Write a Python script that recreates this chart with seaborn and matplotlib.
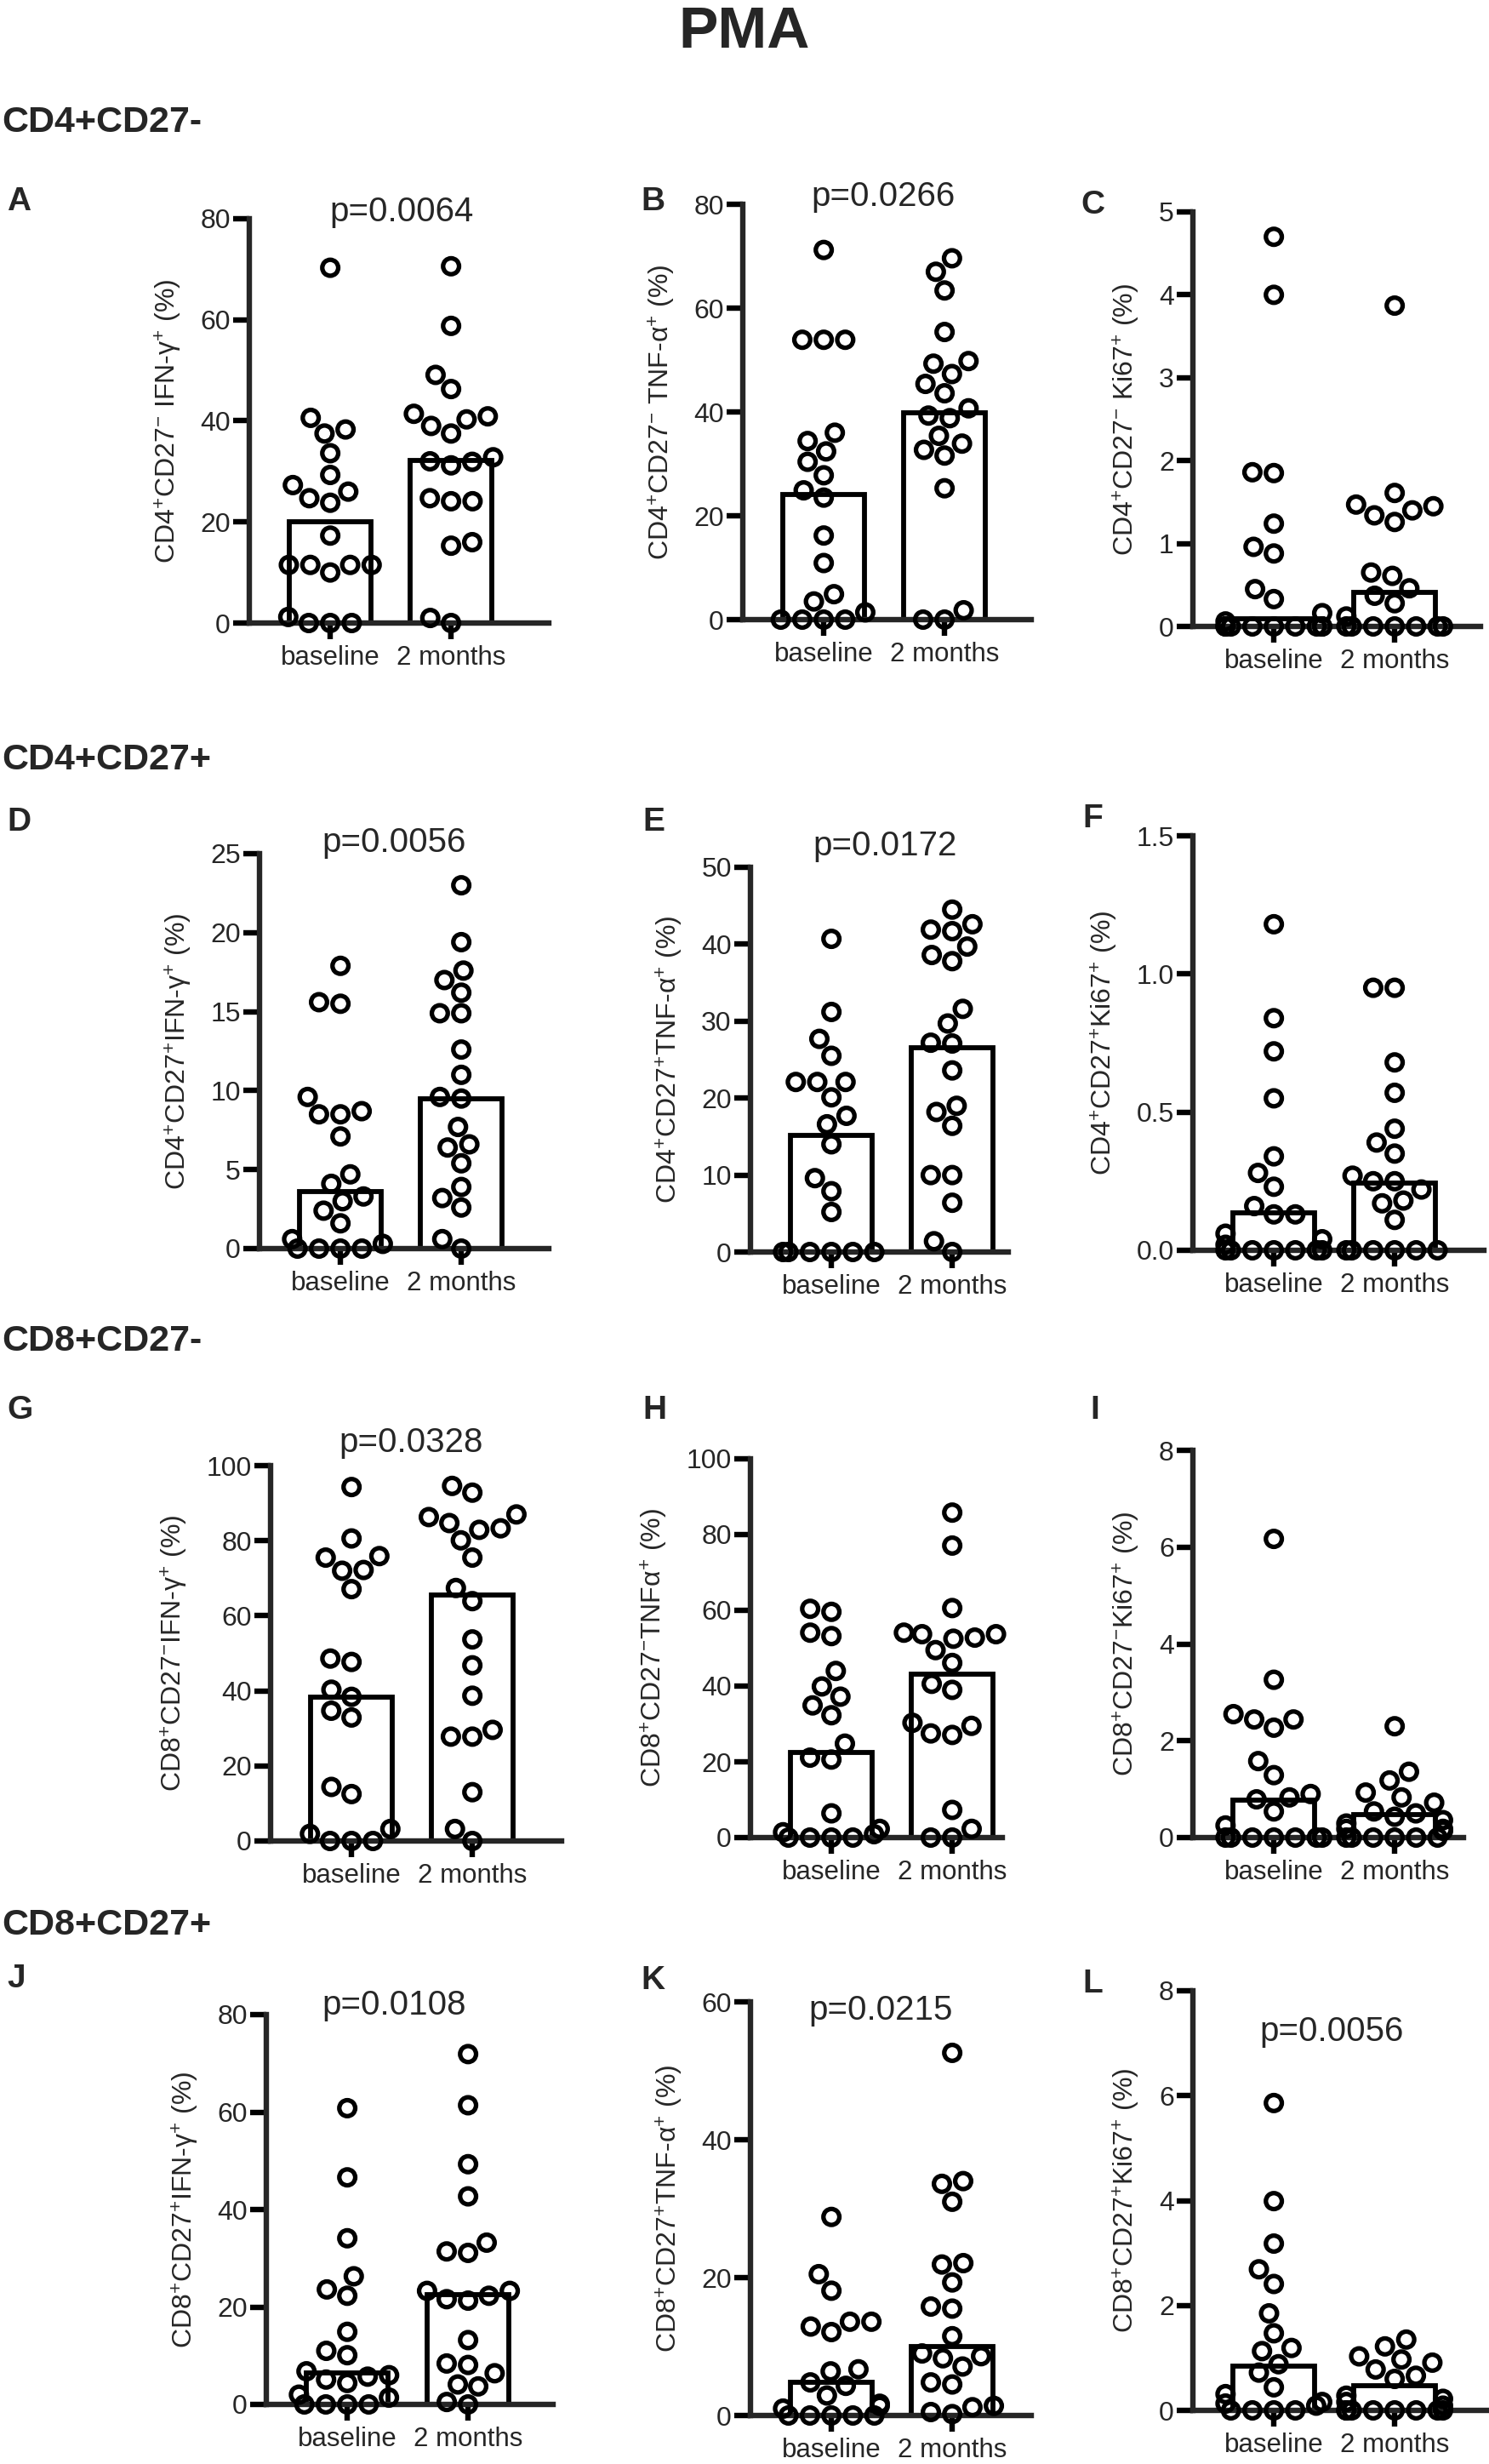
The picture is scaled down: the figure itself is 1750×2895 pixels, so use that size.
import numpy as np
import pandas as pd
import matplotlib.pyplot as plt
import matplotlib.ticker as mticker
import seaborn as sns

groups = ["baseline", "2 months"]

# A  CD4+CD27- IFN-g
a_base = [70.3, 40.6, 38.3, 37.5, 33.6, 29.3, 27.3, 26.0, 24.7, 23.8, 17.3, 11.5, 11.5, 11.5, 11.5, 10.0, 1.2, 0, 0, 0]
a_2m = [70.6, 58.8, 49.1, 46.3, 41.4, 40.9, 40.3, 39.0, 37.5, 32.8, 32.0, 31.9, 31.2, 24.7, 24.1, 24.1, 16.0, 15.3, 1.0, 0]
a_med = [20.0, 32.2]
# B  CD4+CD27- TNF-a
b_base = [71.2, 53.9, 53.9, 53.9, 36.0, 34.4, 32.4, 30.4, 27.8, 24.9, 23.5, 16.2, 10.9, 4.9, 3.5, 1.4, 0, 0, 0, 0]
b_2m = [69.6, 67.0, 63.4, 55.4, 49.8, 49.3, 47.3, 45.4, 43.6, 40.7, 39.3, 38.8, 35.4, 33.9, 32.7, 31.6, 25.3, 1.8, 0, 0]
b_med = [24.1, 39.8]
# C  CD4+CD27- Ki67
c_base = [4.7, 4.0, 1.86, 1.85, 1.24, 0.96, 0.88, 0.45, 0.33, 0.16, 0.06, 0, 0, 0, 0, 0, 0, 0, 0, 0]
c_2m = [3.87, 1.61, 1.47, 1.45, 1.40, 1.34, 1.26, 0.65, 0.61, 0.46, 0.37, 0.28, 0.12, 0, 0, 0, 0, 0, 0, 0]
c_med = [0.09, 0.41]
# D  CD4+CD27+ IFN-g
d_base = [17.9, 15.6, 15.5, 9.6, 8.7, 8.5, 8.5, 7.1, 4.7, 4.1, 3.3, 3.0, 2.4, 1.6, 0.6, 0.3, 0, 0, 0, 0]
d_2m = [23.0, 19.4, 17.6, 17.0, 16.2, 14.9, 14.9, 12.6, 11.0, 9.6, 9.5, 7.7, 6.6, 6.4, 5.4, 3.9, 3.2, 2.6, 0.6, 0]
d_med = [3.6, 9.5]
# E  CD4+CD27+ TNF-a
e_base = [40.7, 31.2, 27.7, 25.5, 22.1, 22.1, 22.1, 20.1, 17.7, 16.6, 14.0, 9.6, 7.9, 5.2, 0, 0, 0, 0, 0, 0]
e_2m = [44.5, 42.6, 41.9, 41.7, 39.7, 38.6, 37.8, 31.6, 29.7, 27.2, 27.1, 23.6, 19.0, 18.2, 16.4, 10.0, 10.0, 6.4, 1.4, 0]
e_med = [15.1, 26.6]
# F  CD4+CD27+ Ki67
f_base = [1.18, 0.84, 0.72, 0.55, 0.34, 0.28, 0.23, 0.16, 0.13, 0.13, 0.06, 0.04, 0.02, 0, 0, 0, 0, 0, 0, 0]
f_2m = [0.95, 0.95, 0.68, 0.57, 0.44, 0.39, 0.35, 0.27, 0.25, 0.25, 0.22, 0.18, 0.17, 0.11, 0, 0, 0, 0, 0, 0]
f_med = [0.134, 0.244]
# G  CD8+CD27- IFN-g
g_base = [94.3, 80.6, 75.9, 75.5, 72.2, 72.0, 67.1, 48.6, 47.7, 40.3, 38.4, 34.7, 32.9, 14.4, 12.5, 3.2, 1.9, 0, 0, 0]
g_2m = [94.6, 92.8, 87.0, 86.3, 84.7, 83.3, 82.9, 80.1, 75.5, 67.4, 63.9, 53.7, 46.8, 38.7, 29.6, 27.8, 27.8, 13.0, 3.2, 0]
g_med = [38.4, 65.6]
# H  CD8+CD27- TNFa
h_base = [60.4, 59.6, 54.1, 53.2, 44.0, 39.9, 37.2, 34.9, 32.3, 24.8, 21.1, 20.6, 6.4, 2.3, 1.4, 0.9, 0, 0, 0, 0]
h_2m = [85.8, 77.1, 60.6, 54.1, 53.7, 53.7, 52.8, 52.5, 49.5, 46.1, 40.6, 39.0, 30.3, 29.5, 27.5, 27.1, 7.3, 2.3, 0, 0]
h_med = [22.5, 43.1]
# I  CD8+CD27- Ki67
i_base = [6.17, 3.26, 2.55, 2.44, 2.44, 2.27, 1.58, 1.29, 0.90, 0.83, 0.79, 0.54, 0.25, 0, 0, 0, 0, 0, 0, 0]
i_2m = [2.30, 1.36, 1.18, 0.93, 0.83, 0.72, 0.54, 0.50, 0.43, 0.36, 0.29, 0.18, 0.18, 0.14, 0, 0, 0, 0, 0, 0]
i_med = [0.77, 0.47]
# J  CD8+CD27+ IFN-g
j_base = [60.8, 46.6, 34.1, 26.3, 23.6, 22.3, 14.9, 11.0, 10.1, 6.8, 6.0, 5.7, 5.1, 4.4, 2.0, 1.4, 0, 0, 0, 0]
j_2m = [71.9, 61.4, 49.3, 42.7, 33.2, 31.4, 31.1, 23.3, 23.3, 22.3, 21.6, 21.3, 13.2, 8.4, 8.1, 6.4, 4.1, 3.7, 0.5, 0]
j_med = [6.4, 22.6]
# K  CD8+CD27+ TNF-a
k_base = [28.8, 20.5, 18.1, 13.6, 13.6, 12.9, 12.1, 6.7, 6.4, 4.8, 4.3, 2.9, 1.7, 1.4, 1.0, 0, 0, 0, 0, 0]
k_2m = [52.6, 34.0, 33.6, 31.0, 22.1, 21.9, 19.3, 15.8, 15.5, 11.5, 9.0, 8.6, 8.3, 7.1, 4.8, 4.5, 1.4, 1.2, 0.5, 0.2]
k_med = [4.8, 10.0]
# L  CD8+CD27+ Ki67
l_base = [5.86, 3.99, 3.18, 2.69, 2.41, 1.85, 1.47, 1.19, 1.13, 0.88, 0.72, 0.44, 0.31, 0.16, 0.13, 0.09, 0, 0, 0, 0]
l_2m = [1.35, 1.22, 1.03, 0.97, 0.91, 0.78, 0.66, 0.60, 0.28, 0.22, 0.16, 0.09, 0, 0, 0, 0, 0, 0, 0, 0]
l_med = [0.85, 0.47]

p_values = {"A": "p=0.0064", "B": "p=0.0266", "D": "p=0.0056", "E": "p=0.0172",
            "G": "p=0.0328", "J": "p=0.0108", "K": "p=0.0215", "L": "p=0.0056"}

sections = ["CD4+CD27-", "CD4+CD27+", "CD8+CD27-", "CD8+CD27+"]

sns.set_style("ticks")
plt.rcParams['font.family'] = ['Liberation Sans', 'DejaVu Sans']
plt.rcParams['mathtext.fontset'] = 'custom'
plt.rcParams['mathtext.rm'] = 'Liberation Sans'
plt.rcParams['mathtext.it'] = 'Liberation Sans:italic'
plt.rcParams['mathtext.bf'] = 'Liberation Sans:bold'
plt.rcParams['mathtext.default'] = 'regular'

W, H = 1750, 2895
fig = plt.figure(figsize=(W / 100, H / 100), dpi=100)
fig.patch.set_facecolor("white")

# letter, base, 2 months, medians, ymax, n ticks, ylabel, (left, top, bottom, right) px,
# letter pos px, p text pos (x data, y axes)
panels = [
    ("A", a_base, a_2m, a_med, 80, 4, r"CD4$^{+}$CD27$^{-}$ IFN-γ$^{+}$ (%)", (293, 257, 732, 645), (8, 219), (0.59, 0.994)),
    ("B", b_base, b_2m, b_med, 80, 4, r"CD4$^{+}$CD27$^{-}$ TNF-α$^{+}$ (%)", (873, 240, 728, 1212), (753, 219), (0.49, 0.996)),
    ("C", c_base, c_2m, c_med, 5, 5, r"CD4$^{+}$CD27$^{-}$ Ki67$^{+}$ (%)", (1402, 249, 736, 1740), (1270, 223), None),
    ("D", d_base, d_2m, d_med, 25, 5, r"CD4$^{+}$CD27$^{+}$IFN-γ$^{+}$ (%)", (305, 1003, 1467, 645), (8, 948), (0.44, 1.004)),
    ("E", e_base, e_2m, e_med, 50, 5, r"CD4$^{+}$CD27$^{+}$TNF-α$^{+}$ (%)", (882, 1019, 1471, 1185), (755, 948), (0.44, 1.03)),
    ("F", f_base, f_2m, f_med, 1.5, 3, r"CD4$^{+}$CD27$^{+}$Ki67$^{+}$ (%)", (1402, 982, 1469, 1744), (1272, 944), None),
    ("G", g_base, g_2m, g_med, 100, 5, r"CD8$^{+}$CD27$^{-}$IFN-γ$^{+}$ (%)", (318, 1722, 2163, 660), (8, 1639), (0.49, 1.036)),
    ("H", h_base, h_2m, h_med, 100, 5, r"CD8$^{+}$CD27$^{-}$TNFα$^{+}$ (%)", (882, 1714, 2159, 1178), (755, 1639), None),
    ("I", i_base, i_2m, i_med, 8, 4, r"CD8$^{+}$CD27$^{-}$Ki67$^{+}$ (%)", (1402, 1704, 2159, 1720), (1281, 1639), None),
    ("J", j_base, j_2m, j_med, 80, 4, r"CD8$^{+}$CD27$^{+}$IFN-γ$^{+}$ (%)", (313, 2367, 2825, 650), (8, 2307), (0.39, 1.0)),
    ("K", k_base, k_2m, k_med, 60, 3, r"CD8$^{+}$CD27$^{+}$TNF-α$^{+}$ (%)", (882, 2352, 2838, 1212), (753, 2309), (0.41, 0.957)),
    ("L", l_base, l_2m, l_med, 8, 4, r"CD8$^{+}$CD27$^{+}$Ki67$^{+}$ (%)", (1402, 2339, 2832, 1747), (1272, 2313), (0.48, 0.88)),
]

spacing = 142.0  # px between the two categories

for letter, base, two, med, ymax, nt, ylab, (l, t, b, r), (lx, ly), ppos in panels:
    ax = fig.add_axes([l / W, 1 - b / H, (r - l) / W, (b - t) / H])
    pts = pd.DataFrame({"group": ["baseline"] * len(base) + ["2 months"] * len(two),
                        "value": base + two})
    bars = pd.DataFrame({"group": groups, "value": med})
    sns.barplot(data=bars, x="group", y="value", order=groups, fill=False, color="black",
                width=0.68, linewidth=4.2, errorbar=None, ax=ax)
    sns.swarmplot(data=pts, x="group", y="value", order=groups, size=13.5, color="black",
                  warn_thresh=1, ax=ax)
    for coll in ax.collections:
        coll.set_facecolor("none")
        coll.set_edgecolor("black")
        coll.set_linewidth(3.8)
        coll.set_clip_on(False)
        coll.set_zorder(5)
    for patch in ax.patches:
        patch.set_clip_on(False)

    ax.set_xlim(-0.67, -0.67 + (r - l) / spacing)
    ax.set_ylim(0, ymax)
    ax.set_yticks(np.linspace(0, ymax, nt + 1))
    if ymax < 2:
        ax.yaxis.set_major_formatter(mticker.FormatStrFormatter("%.1f"))
    else:
        ax.yaxis.set_major_formatter(mticker.FormatStrFormatter("%g"))
    sns.despine(ax=ax)
    for side in ["left", "bottom"]:
        ax.spines[side].set_linewidth(4.6)
        ax.spines[side].set_capstyle("projecting")
    ax.tick_params(axis="both", direction="out", length=14, width=4.6, color="black")
    ax.tick_params(axis="y", labelsize=23, pad=2)
    ax.tick_params(axis="x", labelsize=22.5, pad=5)
    ax.set_xlabel("")
    ax.set_ylabel(ylab, fontsize=23, labelpad=14)
    ax.set_facecolor("none")

    if ppos is not None:
        ax.text(ppos[0], ppos[1], p_values[letter], transform=ax.get_xaxis_transform(),
                ha="center", va="baseline", fontsize=29)

    fig.text(lx / W, 1 - ly / H, letter, fontsize=28, fontweight="bold", va="top", ha="left")

fig.text(0.5, 1 - 6 / H, "PMA", fontsize=50, fontweight="bold", ha="center", va="top")
for name, y in zip(sections, [144, 893, 1576, 2262]):
    fig.text(2 / W, 1 - y / H, name, fontsize=31, fontweight="bold", ha="left", va="center")

fig.savefig("out.png", dpi=100, facecolor="white")
